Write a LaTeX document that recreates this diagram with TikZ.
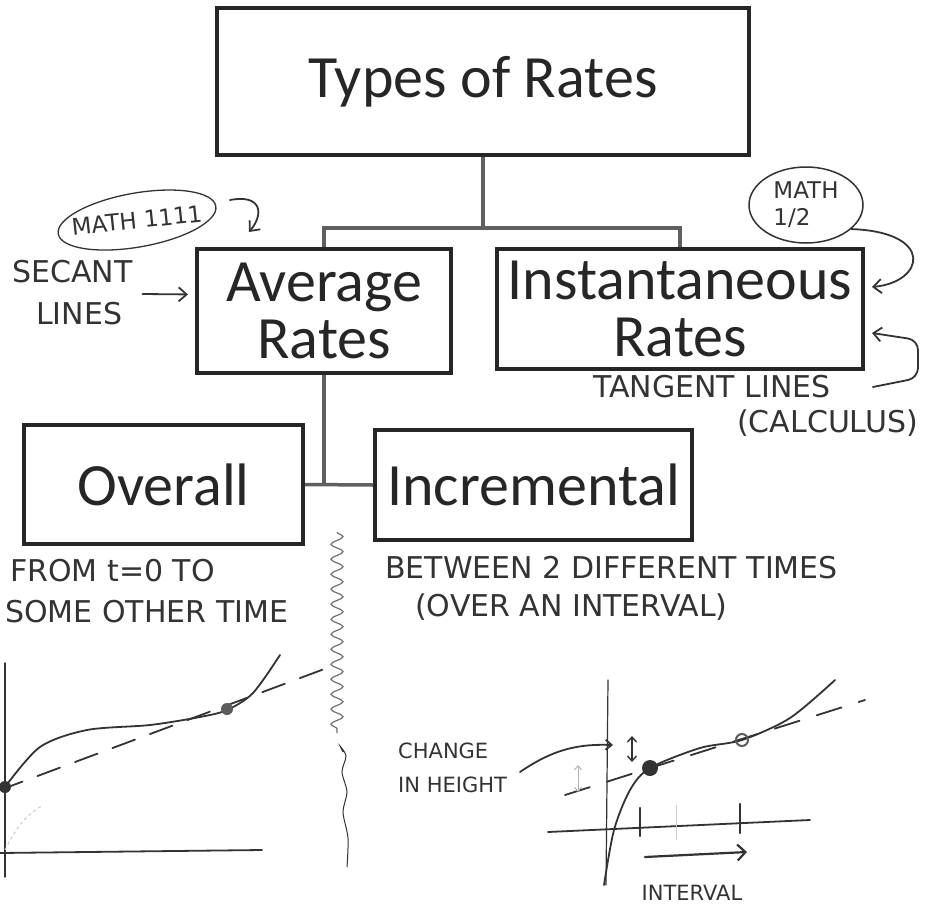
\documentclass[tikz,border=0pt]{standalone}
\usepackage{fontspec}
\setmainfont{Carlito}
\newfontfamily\handfont{DejaVu Sans}
\usetikzlibrary{
  	positioning,
  	arrows.meta,
  	shapes.geometric,
  	decorations.pathmorphing,
  	calc
  }
\definecolor{boxline}{HTML}{262626}
\definecolor{linkline}{HTML}{606060}
\definecolor{pencil}{HTML}{333333}
\tikzstyle{ratebox}=[draw=boxline,line width=4pt,rectangle,align=center,text=boxline,inner sep=0pt,font=\fontsize{60}{57}\selectfont]
\tikzstyle{link}=[draw=linkline,line width=3.5pt]
\tikzstyle{sketch}=[draw=pencil,line width=1.8pt,line cap=round,line join=round]
\tikzstyle{hand}=[text=pencil,inner sep=0pt,align=left,font=\handfont\fontsize{30}{34}\selectfont]
\tikzstyle{handsmall}=[hand,font=\handfont\fontsize{21}{34}\selectfont]
\tikzstyle{handtag}=[hand,font=\handfont\fontsize{23}{27}\selectfont]
\tikzstyle{barb}=[-{Straight Barb[length=8pt,width=14pt]}]

\begin{document}
\begin{tikzpicture}[x=1pt,y=-1pt]
\useasboundingbox (0,0) rectangle (930,911);
\node[ratebox,minimum width=532pt,minimum height=147pt] (types) at (483,81.5) {Types of Rates};
\node[ratebox,minimum width=254pt,minimum height=124pt] (avg) at (324,310.5) {Average\\Rates};
\node[ratebox,minimum width=366pt,minimum height=120pt] (inst) at (680,309) {Instantaneous\\Rates};
\node[ratebox,minimum width=279pt,minimum height=119pt] (overall) at (163.5,484.5) {Overall};
\node[ratebox,minimum width=317pt,minimum height=110pt] (incr) at (533.5,485) {Incremental};
\coordinate (split) at (483,228);
\draw[link] (types.south) -- (split);
\draw[link] (avg.north) |- (split) -| (inst.north);
\draw[link] (avg.south) -- (avg.south |- overall.east);
\draw[link] (overall.east) -- (incr.west);

\node[handtag,rotate=6] (mathA) at (137,220) {MATH 1111};
\draw[sketch,line width=1.3pt,rotate around={10:(mathA)}] (mathA) ellipse [x radius=80pt,y radius=27pt];
\coordinate (mathAtail) at (230,200);
\coordinate (mathAhead) at (249,232);
\draw[sketch,barb] (mathAtail) .. controls (262,194) and (264,214) .. (mathAhead);
\node[hand,anchor=west] (secant) at (12,272) {SECANT};
\node[hand,anchor=west] (lines) at (36,314) {LINES};
\draw[sketch,barb,shorten >=7pt] ([xshift=10pt,yshift=-22pt]secant.east) -- ([yshift=16pt]avg.west);

\node[handtag,ellipse,draw=pencil,line width=1.5pt,minimum width=114pt,minimum height=76pt] (mathB) at (806,205) {MATH\\1/2};
\draw[sketch,barb] (mathB.-28) .. controls (935,232) and (925,282) .. ([xshift=7pt,yshift=22pt]inst.east);
\node[hand,anchor=west] (tangent) at (593,387) {TANGENT LINES};
\node[hand,anchor=west] (calculus) at (737,423) {(CALCULUS)};
\coordinate (tanTail) at (873,387);
\draw[sketch,barb,rounded corners=10pt] (tanTail) -- (918,378) -- (918,340) -- ([xshift=7pt,yshift=-24pt]inst.east);

\node[hand,anchor=west] (fromzero) at (10,571) {FROM t=0 TO};
\node[hand,anchor=west] (someother) at (5,612) {SOME OTHER TIME};
\node[hand,anchor=west] (between) at (385,568) {BETWEEN 2 DIFFERENT TIMES};
\node[hand,anchor=west] (overint) at (415,607) {(OVER AN INTERVAL)};
\node[handsmall,anchor=west] (change) at (398,768) {CHANGE\\IN HEIGHT};
\node[handsmall] (interval) at (692,893) {INTERVAL};

\draw[sketch,line width=1.4pt] (5,663) -- (5,877);
\draw[sketch] (0,853) -- (262,850);
\draw[gray!45,line width=1pt,dashed] (5,850) .. controls (15,830) and (25,815) .. (42,806);
\draw[sketch] plot[smooth] coordinates {(5,787) (40,747) (87,730) (150,725) (200,717) (227,710) (253,693) (280,655)};
\draw[sketch,dash pattern=on 24pt off 16pt] (0,790) -- (327,668);
\fill[pencil] (5,787) circle (6pt);
\fill[pencil!80] (227,709) circle (6pt);

\draw[pencil!70,line width=1.2pt,decorate,decoration={snake,amplitude=6pt,segment length=15pt}] (337,532) -- (337,733);
\draw[pencil,line width=1pt] plot[smooth] coordinates {(343,752) (340,746) (346,756) (342,772) (347,792) (343,812) (348,838) (347,867)};

\draw[sketch,line width=1.2pt] (608,680) -- (606,885);
\draw[sketch] (548,832) -- (810,820);
\draw[gray!40,line width=1pt] (676,805) -- (676,840);
\draw[sketch] plot[smooth] coordinates {(604,885) (614,830) (630,790) (650,768) (700,748) (742,740) (790,718) (835,680)};
\draw[sketch,dash pattern=on 26pt off 18pt] (565,795) -- (865,700);
\fill[pencil] (650,768) circle (8pt);
\draw[pencil!80,line width=2pt] (742,740) circle (6pt);
\draw[sketch,-{Straight Barb[length=6pt,width=10pt]}] (520,772) .. controls (555,748) and (580,744) .. (613,745);
\draw[sketch,line width=1.4pt,{Straight Barb[length=5pt,width=9pt]}-{Straight Barb[length=5pt,width=9pt]}] (632,736) -- (632,762);
\draw[gray!60,line width=1pt,{Straight Barb[length=4pt,width=7pt]}-{Straight Barb[length=4pt,width=7pt]}] (578,765) -- (578,792);
\draw[sketch,line width=2.4pt] (640,808) -- (640,836);
\draw[sketch,line width=2.4pt] (740,804) -- (740,833);
\draw[sketch,line width=2.2pt,-{Straight Barb[length=8pt,width=16pt]}] (645,857) -- (747,852);
\end{tikzpicture}
\end{document}
